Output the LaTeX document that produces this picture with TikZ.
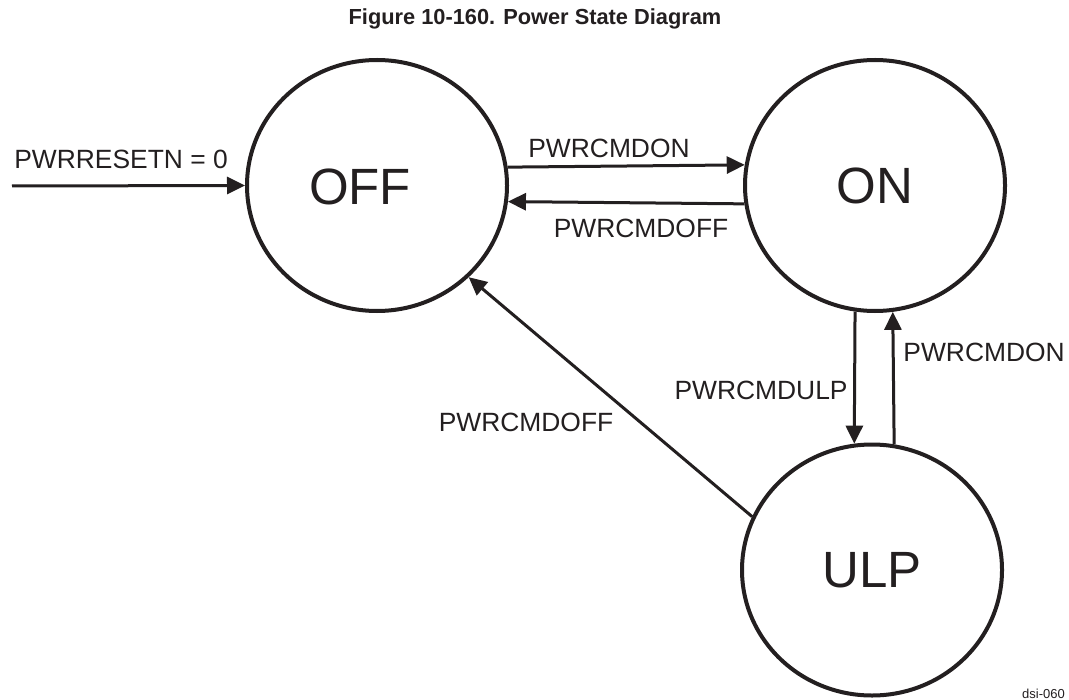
\documentclass[tikz,border=0pt]{standalone}
\usepackage{fontspec}
\setmainfont{Liberation Sans}
\usetikzlibrary{arrows.meta,shapes.geometric}
\definecolor{ink}{HTML}{231F20}
\begin{document}
\begin{tikzpicture}[x=0.5pt,y=-0.5pt,
  state/.style={draw=ink,line width=2pt,ellipse,minimum width=130pt,minimum height=125.5pt,inner sep=0pt,font=\fontsize{25.5}{30}\selectfont,text=ink},
  lbl/.style={inner sep=0pt,font=\fontsize{13.2}{15}\selectfont,text=ink},
  conn/.style={draw=ink,line width=1.5pt,-{Triangle[length=9pt,width=8.5pt]}}]
\useasboundingbox (0,0) rectangle (1069,700);
\node[inner sep=0pt,font=\bfseries\fontsize{10.9}{13}\selectfont,text=ink] (title) at (535,19) {Figure 10-160. Power State Diagram};
\node[state] (OFF) at (377,185.5) {};
\node[inner sep=0pt,font=\fontsize{25.5}{30}\selectfont,text=ink] (OFFtxt) at (360,187) {OFF};
\node[state] (ON) at (875,185.5) {ON};
\node[state] (ULP) at (872,570) {ULP};
\coordinate (rst) at (12,186);
\draw[conn] (rst) -- (OFF.west);
\node[lbl] (lrst) at (121,159) {PWRRESETN = 0};
\draw[conn] (OFF.8.19) -- (ON.171.81);
\node[lbl] (lon1) at (609,148) {PWRCMDON};
\draw[conn] (ON.-172.26) -- (OFF.-7.74);
\node[lbl] (loff1) at (641,228) {PWRCMDOFF};
\draw[conn] (ON.-99.6) -- (ULP.98.24);
\node[lbl,anchor=east] (lulp) at (848,390) {PWRCMDULP};
\draw[conn] (ULP.80.84) -- (ON.-82.22);
\node[lbl,anchor=west] (lon2) at (903,352) {PWRCMDON};
\draw[conn] (ULP.156) -- (OFF.-45.5);
\node[lbl] (loff2) at (526,422) {PWRCMDOFF};
\node[inner sep=0pt,anchor=base,font=\fontsize{6.5}{8}\selectfont,text=ink] (tag) at (1043.5,698) {dsi-060};
\end{tikzpicture}
\end{document}
